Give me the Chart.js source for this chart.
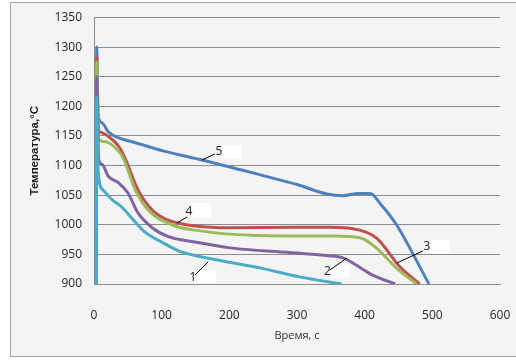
<!DOCTYPE html>
<html>
<head>
<meta charset="utf-8">
<script src="https://cdn.jsdelivr.net/npm/chart.js@4.4.1/dist/chart.umd.min.js"></script>
<style>
  html, body { margin: 0; padding: 0; background: #ffffff; }
  #frame { position: absolute; left: 10px; top: 2px; width: 520px; height: 355px;
           border: 1px solid #a6a6a6; background: #f4f4f4; box-sizing: border-box; }
  #wrap { position: absolute; left: 0; top: 0; width: 516px; height: 361px; }
</style>
</head>
<body>
<div id="frame"></div>
<div id="wrap"><canvas id="c" width="516" height="361"></canvas></div>
<script>
// ---- data (time, s / temperature, °C) ----
const xTicks = [0, 100, 200, 300, 400, 500, 600];
const yTicks = [900, 950, 1000, 1050, 1100, 1150, 1200, 1250, 1300, 1350];

const time1 = [3, 4, 6, 13, 27, 41, 56, 75, 100, 127, 171, 250, 304, 366];
const temp1 = [880, 1215, 1092, 1059, 1042, 1030, 1011, 988, 971, 955, 943, 926, 912, 900];

const time2 = [3, 4, 7, 12, 21, 35, 50, 65, 86, 110, 149, 201, 250, 304, 343, 368, 383, 412, 445];
const temp2 = [880, 1250, 1110, 1102, 1082, 1072, 1054, 1020, 995, 980, 971, 961, 956, 952, 948, 944, 935, 915, 900];

const time3 = [3, 4, 7, 12, 24, 43, 61, 80, 115, 149, 245, 349, 393, 415, 447, 477];
const temp3 = [880, 1275, 1145, 1141, 1137, 1113, 1059, 1025, 1000, 991, 982, 981, 978, 963, 927, 900];

const time4 = [3, 4, 6, 9, 24, 38, 46, 65, 86, 105, 124, 149, 200, 300, 350, 393, 418, 452, 481];
const temp4 = [880, 1283, 1165, 1157, 1147, 1130, 1112, 1059, 1025, 1010, 1003, 998, 995, 996, 996, 991, 977, 929, 900];

const time5 = [3, 4, 6, 12, 21, 34, 60, 105, 161, 250, 300, 344, 368, 390, 408, 425, 447, 495];
const temp5 = [880, 1300, 1185, 1172, 1157, 1148, 1139, 1124, 1109, 1083, 1068, 1052, 1049, 1053, 1053, 1033, 1000, 900];

const seriesNames = ['1', '2', '3', '4', '5'];
const xTitle = 'Время, с';
const yTitle = 'Температура,°С';

// label anchors on curves (time, temperature)
const labelAnchors = [
  { text: '1', t: 168.4, T: 937.0 },
  { text: '2', t: 373.7, T: 943.9 },
  { text: '3', t: 447.6, T: 935.5 },
  { text: '4', t: 122.6, T: 1003.0 },
  { text: '5', t: 159.5, T: 1109.4 }
];
// ---- end data ----

const pts = (ts, vs) => ts.map((t, i) => ({ x: t, y: vs[i] }));
const colors = ['#4bacc6', '#8064a2', '#9bbb59', '#c0504d', '#4f81bd'];
const datasets = [
  pts(time1, temp1), pts(time2, temp2), pts(time3, temp3), pts(time4, temp4), pts(time5, temp5)
].map((d, i) => ({
  label: seriesNames[i],
  data: d,
  borderColor: colors[i],
  backgroundColor: colors[i],
  borderWidth: 3,
  pointRadius: 0,
  fill: false,
  cubicInterpolationMode: 'monotone',
  borderCapStyle: 'butt',
  borderJoinStyle: 'round'
}));

// pixel styling of the callouts (offsets from the anchor)
const calloutStyle = {
  '1': { lx: -13, ly: 13, tx: -15, ty: 15, bx: -11, by: 8, bw: 19, bh: 13 },
  '2': { lx: -17, ly: 12, tx: -19.5, ty: 14, bx: -15, by: 7, bw: 18, bh: 13 },
  '3': { lx: 26, ly: -12, tx: 30, ty: -16, bx: 33, by: -23, bw: 20, bh: 13 },
  '4': { lx: 10, ly: -6, tx: 12, ty: -11, bx: 15, by: -20, bw: 19, bh: 15 },
  '5': { lx: 13, ly: -6, tx: 17, ty: -8, bx: 21, by: -15, bw: 19, bh: 14 }
};

const callouts = {
  id: 'callouts',
  afterDatasetsDraw(chart) {
    const { ctx, scales: { x, y } } = chart;
    ctx.save();
    labelAnchors.forEach(a => {
      const s = calloutStyle[a.text];
      const px = x.getPixelForValue(a.t), py = y.getPixelForValue(a.T);
      ctx.fillStyle = '#ffffff';
      ctx.fillRect(px + s.bx, py + s.by, s.bw, s.bh);
      ctx.strokeStyle = '#000000';
      ctx.lineWidth = 1;
      ctx.beginPath();
      ctx.moveTo(px, py);
      ctx.lineTo(px + s.lx, py + s.ly);
      ctx.stroke();
      ctx.fillStyle = '#222222';
      ctx.font = '12px "Open Sans", "Liberation Sans", sans-serif';
      ctx.textAlign = 'center';
      ctx.textBaseline = 'middle';
      ctx.fillText(a.text, px + s.tx, py + s.ty);
    });
    ctx.restore();
  }
};

const tickFont = { family: '"Open Sans", "Liberation Sans", sans-serif', size: 12 };
const noPad = s => { s.paddingTop = 0; s.paddingBottom = 0; s.paddingLeft = 0; s.paddingRight = 0; };

new Chart(document.getElementById('c'), {
  type: 'line',
  data: { datasets },
  plugins: [callouts],
  options: {
    responsive: false,
    animation: false,
    events: [],
    layout: { padding: { left: 10, right: 16, top: 17.5, bottom: 5 } },
    plugins: { legend: { display: false }, tooltip: { enabled: false } },
    scales: {
      x: {
        type: 'linear',
        min: 0, max: 600,
        afterBuildTicks: s => { s.ticks = xTicks.map(v => ({ value: v })); },
        afterFit: s => { s.height = 72; noPad(s); },
        grid: { display: false },
        border: { display: true, color: '#8c8c8c', width: 1 },
        ticks: { padding: 16, color: '#262626', font: tickFont, callback: v => String(v) },
        title: { display: true, text: xTitle, color: '#333333', padding: { top: 0, bottom: 14 },
                 font: { family: '"Open Sans", "Liberation Sans", sans-serif', size: 11 } }
      },
      y: {
        type: 'linear',
        min: 900, max: 1350,
        afterBuildTicks: s => { s.ticks = yTicks.map(v => ({ value: v })); },
        afterFit: s => { s.width = 84; noPad(s); },
        grid: { color: '#8c8c8c', lineWidth: 1, drawTicks: false },
        border: { display: true, color: '#8c8c8c', width: 1 },
        ticks: { padding: 12, color: '#262626', font: tickFont, callback: v => String(v) },
        title: { display: true, text: yTitle, color: '#222222', padding: { top: 18, bottom: 0 },
                 font: { family: '"Liberation Sans", sans-serif', size: 11.5, weight: 'bold' } }
      }
    }
  }
});
</script>
</body>
</html>
